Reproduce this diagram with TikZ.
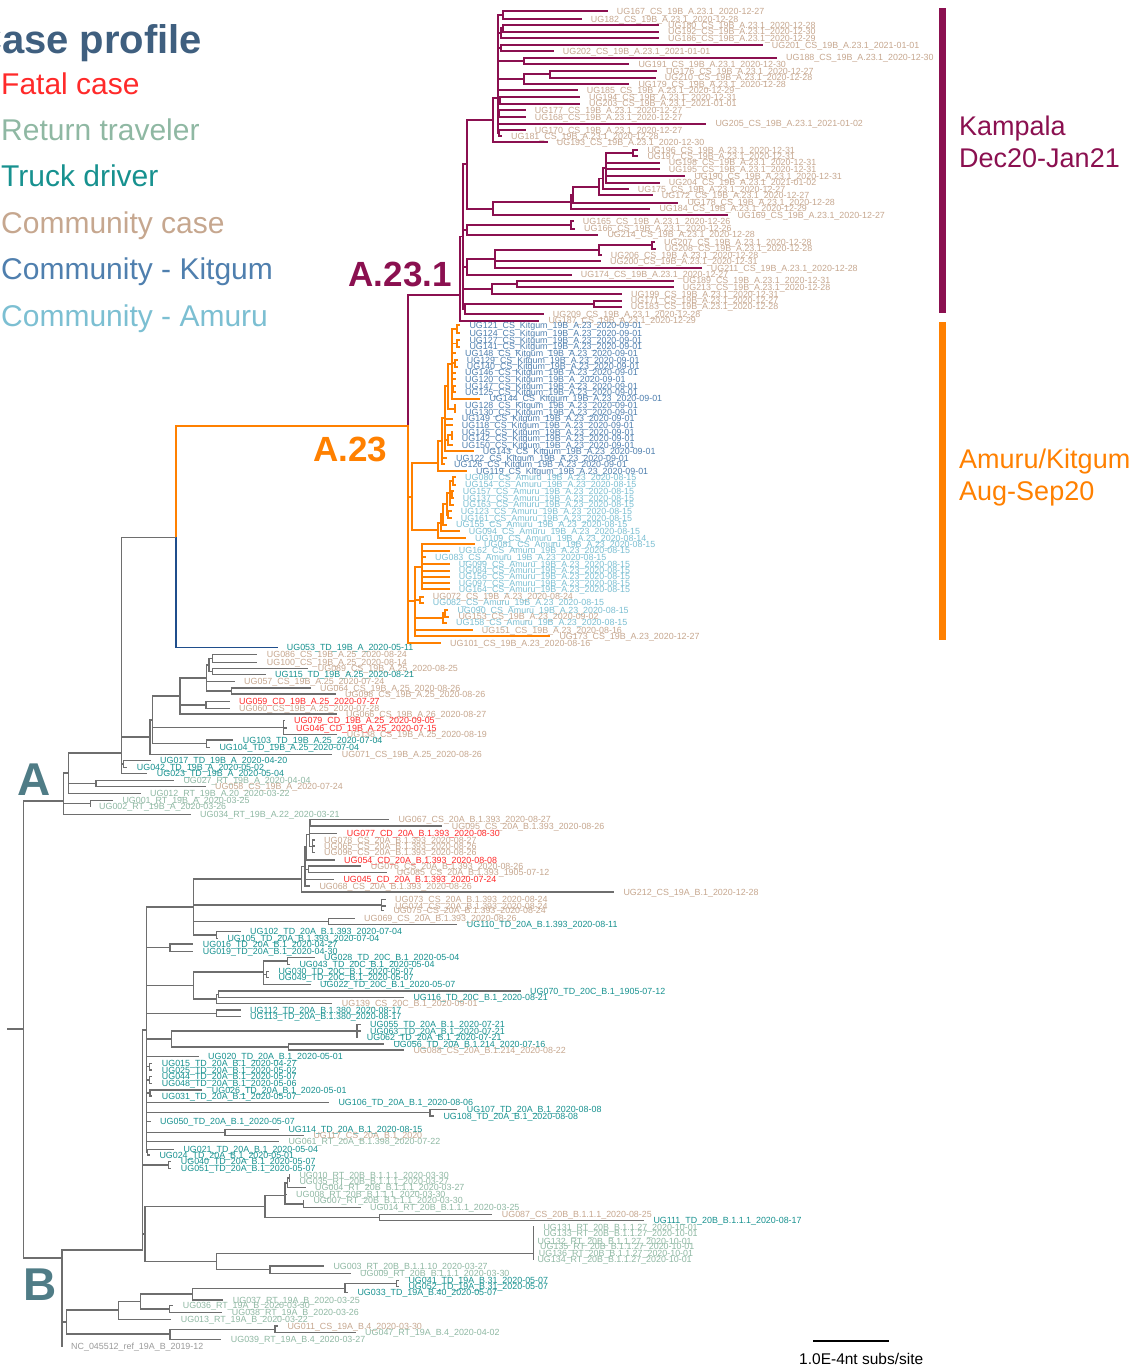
\documentclass[tikz,border=0pt]{standalone}
\usepackage{fontspec}
\setmainfont{Liberation Sans}
\definecolor{cfatal}{HTML}{FF2A2A}
\definecolor{crt}{HTML}{8FB8A3}
\definecolor{ctd}{HTML}{17918F}
\definecolor{ccs}{HTML}{C6A78F}
\definecolor{ckit}{HTML}{4F7FAE}
\definecolor{camu}{HTML}{7CBFD2}
\definecolor{ctitle}{HTML}{3F5F7F}
\definecolor{kamp}{HTML}{8B1050}
\definecolor{orng}{HTML}{FF8000}
\definecolor{bluebr}{HTML}{1F4E8C}
\definecolor{greyb}{HTML}{6E6E6E}
\definecolor{cref}{HTML}{9A9A9A}
\definecolor{cAB}{HTML}{4F7C86}
\tikzset{
  lbl/.style={inner sep=0pt,font=\fontsize{8.9}{9}\selectfont},
  leg/.style={anchor=base west,inner sep=0pt,font=\fontsize{30}{30}\selectfont},
  rtx/.style={anchor=base west,inner sep=0pt,font=\fontsize{27}{27}\selectfont},
  clade/.style={anchor=base east,inner sep=0pt,font=\bfseries\fontsize{35}{35}\selectfont},
  big/.style={anchor=base west,inner sep=0pt,font=\bfseries\fontsize{46}{46}\selectfont,text=cAB},
  brgrey/.style={draw=greyb,line width=1.4pt,line cap=rect},
  brkamp/.style={draw=kamp,line width=1.8pt,line cap=rect},
  brorng/.style={draw=orng,line width=1.7pt,line cap=rect},
  brblue/.style={draw=bluebr,line width=1.6pt,line cap=rect},
  br/.style={brgrey}
}
% leaf: name, parent x, text x, y, colour, label
\newcommand\lf[6]{%
  \draw[br] (#2,#4) -- ({max(#2,#3-10)},#4);
  \node[lbl,text=#5,anchor=base west] (#1) at (#3,{#4+3.2}) {#6};}
\newcommand\vl[3]{\draw[br] (#1,#2) -- (#1,#3);}
\newcommand\hl[3]{\draw[br] (#2,#1) -- (#3,#1);}
\begin{document}
\catcode`\_=12
\begin{tikzpicture}[x=1pt,y=-1pt]
\useasboundingbox (0,0) rectangle (1141,1369);
% ---------------- legend
\node[anchor=base west,inner sep=0pt,font=\bfseries\fontsize{40}{40}\selectfont,text=ctitle] (title) at (-27,53) {Case profile};
\node[leg,text=cfatal] (lg1) at (1,94) {Fatal case};
\node[leg,text=crt] (lg2) at (1,140.4) {Return traveler};
\node[leg,text=ctd] (lg3) at (1,186.8) {Truck driver};
\node[leg,text=ccs] (lg4) at (1,233.2) {Community case};
\node[leg,text=ckit] (lg5) at (1,279.6) {Community - Kitgum};
\node[leg,text=camu] (lg6) at (1,326) {Community - Amuru};
% ---------------- right bars
\fill[kamp] (939,8) rectangle (945.5,313);
\fill[orng] (939,322) rectangle (945.5,640);
\node[rtx,text=kamp] (k1) at (959,135) {Kampala};
\node[rtx,text=kamp] (k2) at (959,167) {Dec20-Jan21};
\node[rtx,text=orng] (o1) at (959,468) {Amuru/Kitgum};
\node[rtx,text=orng] (o2) at (959,500) {Aug-Sep20};
% ---------------- clade labels
\node[clade,text=kamp] (la231) at (452,286) {A.23.1};
\node[clade,text=orng] (la23) at (387.3,461.7) {A.23};
\node[big] (bigA) at (17,795) {A};
\node[big] (bigB) at (23,1300) {B};
% ---------------- Kampala A.23.1
\begin{scope}[br/.style={brkamp}]
\vl{502.7}{11}{19}
\lf{u167}{502.7}{616.7}{11}{ccs}{UG167_CS_19B_A.23.1_2020-12-27}
\lf{u182}{502.7}{590.7}{19}{ccs}{UG182_CS_19B_A.23.1_2020-12-28}
\hl{15}{497.7}{502.7}
\vl{502.7}{25}{31.7}
\lf{u180}{502.7}{668}{25}{ccs}{UG180_CS_19B_A.23.1_2020-12-28}
\lf{u192}{502.7}{668}{31.7}{ccs}{UG192_CS_19B_A.23.1_2020-12-30}
\hl{28.3}{500.7}{502.7}
\vl{500.7}{28.3}{38.3}
\lf{u186}{500.7}{668}{38.3}{ccs}{UG186_CS_19B_A.23.1_2020-12-29}
\hl{33.3}{497.7}{500.7}
\vl{500.7}{45}{51}
\lf{u201}{500.7}{771.7}{45}{ccs}{UG201_CS_19B_A.23.1_2021-01-01}
\lf{u202}{500.7}{562.7}{51}{ccs}{UG202_CS_19B_A.23.1_2021-01-01}
\hl{48}{497.7}{500.7}
\vl{524}{57.7}{64.3}
\lf{u188}{524}{786}{57.7}{ccs}{UG188_CS_19B_A.23.1_2020-12-30}
\lf{u191}{524}{638.3}{64.3}{ccs}{UG191_CS_19B_A.23.1_2020-12-30}
\hl{61}{497.7}{524}
\vl{550}{71}{77.7}
\lf{u176}{550}{666}{71}{ccs}{UG176_CS_19B_A.23.1_2020-12-27}
\lf{u210}{550}{664.7}{77.7}{ccs}{UG210_CS_19B_A.23.1_2020-12-28}
\hl{74.3}{524}{550}
\vl{524}{74.3}{84.3}
\lf{u179}{524}{638.3}{84.3}{ccs}{UG179_CS_19B_A.23.1_2020-12-28}
\hl{79.3}{497.7}{524}
\lf{u185}{497.7}{586.7}{90.3}{ccs}{UG185_CS_19B_A.23.1_2020-12-29}
\vl{500}{97}{103.7}
\lf{u194}{500}{589}{97}{ccs}{UG194_CS_19B_A.23.1_2020-12-31}
\lf{u203}{500}{589}{103.7}{ccs}{UG203_CS_19B_A.23.1_2021-01-01}
\hl{100.3}{497.7}{500}
\vl{499.3}{110.3}{117}
\lf{u177}{499.3}{534.7}{110.3}{ccs}{UG177_CS_19B_A.23.1_2020-12-27}
\lf{u168}{499.3}{534.7}{117}{ccs}{UG168_CS_19B_A.23.1_2020-12-27}
\hl{113.7}{497.7}{499.3}
\lf{u205}{497.7}{715.3}{123.7}{ccs}{UG205_CS_19B_A.23.1_2021-01-02}
\vl{499.3}{130.3}{136.3}
\lf{u170}{499.3}{534.7}{130.3}{ccs}{UG170_CS_19B_A.23.1_2020-12-27}
\lf{u181}{499.3}{511}{136.3}{ccs}{UG181_CS_19B_A.23.1_2020-12-28}
\hl{133.3}{497.7}{499.3}
\vl{497.7}{15}{133.3}
\hl{98}{493.3}{497.7}
\vl{493.3}{98}{142.3}
\lf{u193}{493.3}{556.7}{142.3}{ccs}{UG193_CS_19B_A.23.1_2020-12-30}
\hl{120}{466.7}{493.3}
\vl{633}{150}{156}
\lf{u196}{633}{647.3}{150}{ccs}{UG196_CS_19B_A.23.1_2020-12-31}
\lf{u197}{633}{647.3}{156}{ccs}{UG197_CS_19B_A.23.1_2020-12-31}
\hl{153}{605.7}{633}
\lf{u198}{605.7}{668.7}{162.7}{ccs}{UG198_CS_19B_A.23.1_2020-12-31}
\lf{u195}{605.7}{668.7}{169.3}{ccs}{UG195_CS_19B_A.23.1_2020-12-31}
\lf{u190}{605.7}{694.3}{176}{ccs}{UG190_CS_19B_A.23.1_2020-12-31}
\lf{u204}{605.7}{668.7}{182.7}{ccs}{UG204_CS_19B_A.23.1_2021-01-02}
\vl{605.7}{153}{182.7}
\hl{167.8}{603}{605.7}
\vl{603}{167.8}{189.3}
\lf{u175}{603}{637.7}{189.3}{ccs}{UG175_CS_19B_A.23.1_2020-12-27}
\hl{178.5}{599.3}{603}
\vl{599.3}{178.5}{195.3}
\lf{u172}{599.3}{661.7}{195.3}{ccs}{UG172_CS_19B_A.23.1_2020-12-27}
\hl{187}{573.3}{599.3}
\vl{573.3}{187}{202.7}
\lf{u178}{573.3}{687.3}{202.7}{ccs}{UG178_CS_19B_A.23.1_2020-12-28}
\hl{195}{571}{573.3}
\vl{571}{195}{208.7}
\lf{u184}{571}{659.3}{208.7}{ccs}{UG184_CS_19B_A.23.1_2020-12-29}
\hl{202}{493.3}{571}
\vl{493.3}{202}{215.3}
\lf{u169}{493.3}{737.3}{215.3}{ccs}{UG169_CS_19B_A.23.1_2020-12-27}
\hl{208.7}{466.7}{493.3}
\vl{466.7}{120}{208.7}
\hl{164}{463.3}{466.7}
\vl{570.7}{221.3}{228.7}
\lf{u165}{570.7}{582.7}{221.3}{ccs}{UG165_CS_19B_A.23.1_2020-12-26}
\lf{u166}{570.7}{584}{228.7}{ccs}{UG166_CS_19B_A.23.1_2020-12-26}
\hl{225}{467.3}{570.7}
\lf{u214}{467.3}{607.3}{234.7}{ccs}{UG214_CS_19B_A.23.1_2020-12-28}
\vl{467.3}{225}{234.7}
\hl{230}{463.3}{467.3}
\vl{652.3}{242}{248.7}
\lf{u207}{652.3}{664}{242}{ccs}{UG207_CS_19B_A.23.1_2020-12-28}
\lf{u208}{652.3}{664.7}{248.7}{ccs}{UG208_CS_19B_A.23.1_2020-12-28}
\hl{245}{599.3}{652.3}
\vl{599.3}{245}{255.3}
\lf{u206}{599.3}{610.7}{255.3}{ccs}{UG206_CS_19B_A.23.1_2020-12-28}
\hl{250}{494.7}{599.3}
\lf{u200}{494.7}{610}{261.3}{ccs}{UG200_CS_19B_A.23.1_2020-12-31}
\lf{u211}{494.7}{710.7}{268}{ccs}{UG211_CS_19B_A.23.1_2020-12-28}
\vl{494.7}{250}{268}
\hl{259}{467.3}{494.7}
\vl{467.3}{259}{274.7}
\lf{u174}{467.3}{580.7}{274.7}{ccs}{UG174_CS_19B_A.23.1_2020-12-27}
\hl{267}{463.3}{467.3}
\vl{517.3}{280.7}{287.3}
\lf{u189}{517.3}{682.7}{280.7}{ccs}{UG189_CS_19B_A.23.1_2020-12-31}
\lf{u213}{517.3}{682.7}{287.3}{ccs}{UG213_CS_19B_A.23.1_2020-12-28}
\hl{284}{491.7}{517.3}
\vl{491.7}{284}{294}
\lf{u199}{491.7}{631}{294}{ccs}{UG199_CS_19B_A.23.1_2020-12-31}
\hl{289}{463.3}{491.7}
\vl{594}{300.7}{306.7}
\lf{u171}{594}{630.7}{300.7}{ccs}{UG171_CS_19B_A.23.1_2020-12-27}
\lf{u183}{594}{630.7}{306.7}{ccs}{UG183_CS_19B_A.23.1_2020-12-28}
\hl{303.7}{465}{594}
\vl{465}{303.7}{314}
\lf{u209}{465}{552.7}{314}{ccs}{UG209_CS_19B_A.23.1_2020-12-28}
\hl{309}{463.3}{465}
\vl{463.3}{164}{309}
\hl{236.5}{460}{463.3}
\vl{460}{236.5}{320.7}
\lf{u187}{460}{548.3}{320.7}{ccs}{UG187_CS_19B_A.23.1_2020-12-29}
\hl{295}{408.3}{460}
\vl{408.3}{295}{426}
\end{scope}
% ---------------- A.23 orange
\begin{scope}[br/.style={brorng}]
\vl{456.7}{325.3}{333.3}
\lf{u121}{456.7}{469.3}{325.3}{ckit}{UG121_CS_Kitgum_19B_A.23_2020-09-01}
\lf{u124}{456.7}{469.3}{333.3}{ckit}{UG124_CS_Kitgum_19B_A.23_2020-09-01}
\hl{329.3}{451.7}{456.7}
\vl{456.7}{340.3}{346.7}
\lf{u127}{456.7}{469.3}{340.3}{ckit}{UG127_CS_Kitgum_19B_A.23_2020-09-01}
\lf{u141}{456.7}{469.3}{346.7}{ckit}{UG141_CS_Kitgum_19B_A.23_2020-09-01}
\hl{343.5}{451.7}{456.7}
\lf{u148}{451.7}{465}{353.3}{ckit}{UG148_CS_Kitgum_19B_A.23_2020-09-01}
\vl{455}{360}{366.7}
\lf{u129}{455}{466.7}{360}{ckit}{UG129_CS_Kitgum_19B_A.23_2020-09-01}
\lf{u140}{455}{466.7}{366.7}{ckit}{UG140_CS_Kitgum_19B_A.23_2020-09-01}
\hl{363.3}{451.7}{455}
\lf{u146}{451.7}{465}{372.7}{ckit}{UG146_CS_Kitgum_19B_A.23_2020-09-01}
\lf{u120}{451.7}{465}{379.3}{ckit}{UG120_CS_Kitgum_19B_A_2020-09-01}
\vl{453.3}{386}{392}
\lf{u147}{453.3}{465}{386}{ckit}{UG147_CS_Kitgum_19B_A.23_2020-09-01}
\lf{u125}{453.3}{465}{392}{ckit}{UG125_CS_Kitgum_19B_A.23_2020-09-01}
\hl{389}{451.7}{453.3}
\lf{u144}{451.7}{489.3}{398.7}{ckit}{UG144_CS_Kitgum_19B_A.23_2020-09-01}
\vl{451.7}{329.3}{398.7}
\hl{364}{448.3}{451.7}
\vl{455}{405.3}{412}
\lf{u128}{455}{465}{405.3}{ckit}{UG128_CS_Kitgum_19B_A.23_2020-09-01}
\lf{u130}{455}{465}{412}{ckit}{UG130_CS_Kitgum_19B_A.23_2020-09-01}
\hl{408.7}{448.3}{455}
\vl{448.3}{364}{408.7}
\hl{386}{445}{448.3}
\lf{u149}{445}{461.7}{418.7}{ckit}{UG149_CS_Kitgum_19B_A.23_2020-09-01}
\lf{u118}{445}{461.7}{425.3}{ckit}{UG118_CS_Kitgum_19B_A.23_2020-09-01}
\vl{451.7}{432}{438.7}
\lf{u145}{451.7}{461.7}{432}{ckit}{UG145_CS_Kitgum_19B_A.23_2020-09-01}
\lf{u142}{451.7}{461.7}{438.7}{ckit}{UG142_CS_Kitgum_19B_A.23_2020-09-01}
\hl{435.3}{448.3}{451.7}
\vl{448.3}{435.3}{445.3}
\lf{u150}{448.3}{461.7}{445.3}{ckit}{UG150_CS_Kitgum_19B_A.23_2020-09-01}
\hl{440.3}{445}{448.3}
\lf{u143}{445}{482.7}{451.3}{ckit}{UG143_CS_Kitgum_19B_A.23_2020-09-01}
\vl{445}{386}{451.3}
\hl{418}{441.7}{445}
\lf{u122}{441.7}{456}{458}{ckit}{UG122_CS_Kitgum_19B_A.23_2020-09-01}
\lf{u126}{441.7}{454}{464}{ckit}{UG126_CS_Kitgum_19B_A.23_2020-09-01}
\vl{441.7}{418}{464}
\hl{441}{438.3}{441.7}
\lf{u119}{438.3}{476}{471.3}{ckit}{UG119_CS_Kitgum_19B_A.23_2020-09-01}
\vl{438.3}{441}{471.3}
\hl{463.3}{412.3}{438.3}
% Amuru
\vl{453.3}{477.3}{484.7}
\lf{u080}{453.3}{465}{477.3}{camu}{UG080_CS_Amuru_19B_A.23_2020-08-15}
\lf{u154}{453.3}{465}{484.7}{camu}{UG154_CS_Amuru_19B_A.23_2020-08-15}
\hl{481}{450}{453.3}
\vl{451.7}{491.3}{498}
\lf{u157}{451.7}{462.7}{491.3}{camu}{UG157_CS_Amuru_19B_A.23_2020-08-15}
\lf{u137}{451.7}{462.7}{498}{camu}{UG137_CS_Amuru_19B_A.23_2020-08-15}
\hl{494.7}{450}{451.7}
\lf{u163}{450}{462.7}{504.7}{camu}{UG163_CS_Amuru_19B_A.23_2020-08-15}
\vl{450}{481}{504.7}
\hl{493}{446.7}{450}
\vl{448.3}{511.3}{518}
\lf{u123}{448.3}{460.7}{511.3}{camu}{UG123_CS_Amuru_19B_A.23_2020-08-15}
\lf{u161}{448.3}{460.7}{518}{camu}{UG161_CS_Amuru_19B_A.23_2020-08-15}
\hl{514.7}{446.7}{448.3}
\vl{446.7}{493}{514.7}
\hl{504}{443.3}{446.7}
\lf{u155}{443.3}{456}{524.7}{camu}{UG155_CS_Amuru_19B_A.23_2020-08-15}
\vl{443.3}{504}{524.7}
\hl{514}{440.7}{443.3}
\lf{u094}{440.7}{468.7}{531.3}{camu}{UG094_CS_Amuru_19B_A.23_2020-08-15}
\vl{440.7}{514}{531.3}
\hl{522.7}{438.3}{440.7}
\lf{u109}{438.3}{475}{538}{camu}{UG109_CS_Amuru_19B_A.23_2020-08-14}
\vl{438.3}{522.7}{538}
\hl{530}{412.3}{438.3}
\vl{412.3}{463.3}{530}
\hl{496.7}{408.3}{412.3}
% lower A.23
\lf{u081}{421.7}{484}{544}{camu}{UG081_CS_Amuru_19B_A.23_2020-08-15}
\lf{u162}{421.7}{458.7}{550.7}{camu}{UG162_CS_Amuru_19B_A.23_2020-08-15}
\lf{u083}{421.7}{435}{557.3}{camu}{UG083_CS_Amuru_19B_A.23_2020-08-15}
\lf{u099}{421.7}{458.7}{564}{camu}{UG099_CS_Amuru_19B_A.23_2020-08-15}
\lf{u084}{421.7}{458.7}{570.7}{camu}{UG084_CS_Amuru_19B_A.23_2020-08-15}
\lf{u156}{421.7}{458.7}{576.7}{camu}{UG156_CS_Amuru_19B_A.23_2020-08-15}
\lf{u097}{421.7}{458.7}{583.3}{camu}{UG097_CS_Amuru_19B_A.23_2020-08-15}
\lf{u164}{421.7}{458.7}{589.3}{camu}{UG164_CS_Amuru_19B_A.23_2020-08-15}
\vl{421.7}{544}{589.3}
\hl{566.7}{415}{421.7}
\vl{420}{596.7}{602.7}
\lf{u072}{420}{432.7}{596.7}{ccs}{UG072_CS_19B_A.23_2020-08-24}
\lf{u082}{420}{432.7}{602.7}{camu}{UG082_CS_Amuru_19B_A.23_2020-08-15}
\hl{599.7}{415}{420}
\vl{445}{610}{616.7}
\lf{u090}{445}{457.3}{610}{camu}{UG090_CS_Amuru_19B_A.23_2020-08-15}
\lf{u153}{445}{458.3}{616.7}{ccs}{UG153_CS_19B_A.23_2020-09-02}
\hl{613.3}{443.3}{445}
\vl{443.3}{613.3}{622.7}
\lf{u158}{443.3}{456}{622.7}{camu}{UG158_CS_Amuru_19B_A.23_2020-08-15}
\hl{618}{415}{443.3}
\lf{u151}{415}{481.7}{630}{ccs}{UG151_CS_19B_A.23_2020-08-16}
\lf{u173}{415}{559.3}{636}{ccs}{UG173_CS_19B_A.23_2020-12-27}
\vl{415}{566.7}{636}
\hl{601}{408.3}{415}
\lf{u101}{408.3}{450}{643.3}{ccs}{UG101_CS_19B_A.23_2020-08-16}
\vl{408.3}{426}{643.3}
\hl{426}{175.7}{408.3}
\vl{175.7}{426}{537.3}
\end{scope}
\begin{scope}[br/.style={brblue}]
\vl{175.7}{537.3}{647.5}
\lf{u053}{175.7}{286.7}{647.5}{ctd}{UG053_TD_19B_A_2020-05-11}
\end{scope}
% ---------------- grey: clade A
\hl{537.3}{121.5}{175.7}
\vl{212.7}{654.7}{662.7}
\lf{u086}{212.7}{266.7}{654.7}{ccs}{UG086_CS_19B_A.25_2020-08-24}
\lf{u100}{212.7}{266.7}{662.7}{ccs}{UG100_CS_19B_A.25_2020-08-14}
\hl{658.7}{209}{212.7}
\vl{212.7}{668.7}{674.7}
\lf{u089}{212.7}{317.7}{668.7}{ccs}{UG089_CS_19B_A.25_2020-08-25}
\lf{u115}{212.7}{275}{674.7}{ctd}{UG115_TD_19B_A.25_2020-08-21}
\hl{671.7}{209}{212.7}
\vl{209}{658.7}{671.7}
\hl{665}{206.7}{209}
\lf{u057}{206.7}{244}{681.3}{ccs}{UG057_CS_19B_A.25_2020-07-24}
\vl{231.7}{688}{694}
\lf{u064}{231.7}{320}{688}{ccs}{UG064_CS_19B_A.25_2020-08-26}
\lf{u098}{231.7}{345}{694}{ccs}{UG098_CS_19B_A.25_2020-08-26}
\hl{691}{206.7}{231.7}
\vl{206.7}{665}{691}
\hl{678}{180}{206.7}
\vl{206}{701.3}{708.7}
\lf{u059}{206}{239}{701.3}{cfatal}{UG059_CD_19B_A.25_2020-07-27}
\lf{u060}{206}{239}{708.7}{ccs}{UG060_CS_19B_A.25_2020-07-28}
\hl{705}{180}{206}
\lf{u066}{180}{346}{714}{ccs}{UG066_CS_19B_A.26_2020-08-27}
\vl{180}{678}{714}
\hl{696}{152.7}{180}
\lf{u079}{283.3}{294}{720.7}{cfatal}{UG079_CD_19B_A.25_2020-09-05}
\lf{u046}{283.3}{296}{728}{cfatal}{UG046_CD_19B_A.25_2020-07-15}
\lf{u138}{283.3}{346.7}{734.7}{ccs}{UG138_CS_19B_A.25_2020-08-19}
\vl{283.3}{720.7}{734.7}
\hl{727.7}{152.7}{283.3}
\vl{206.7}{740}{747.3}
\lf{u103}{206.7}{242.7}{740}{ctd}{UG103_TD_19B_A.25_2020-07-04}
\lf{u104}{206.7}{219.3}{747.3}{ctd}{UG104_TD_19B_A.25_2020-07-04}
\hl{743.7}{152.7}{206.7}
\vl{152.7}{696}{743.7}
\hl{720}{150}{152.7}
\lf{u071}{150}{341.7}{754.7}{ccs}{UG071_CS_19B_A.25_2020-08-26}
\vl{150}{720}{754.7}
\hl{737}{121.5}{150}
\vl{123.3}{760.7}{767.3}
\lf{u017}{123.3}{160}{760.7}{ctd}{UG017_TD_19B_A_2020-04-20}
\lf{u042}{123.3}{136.7}{767.3}{ctd}{UG042_TD_19B_A_2020-05-02}
\hl{764}{121.5}{123.3}
\lf{u023}{121.5}{156.7}{773.3}{ctd}{UG023_TD_19B_A_2020-05-04}
\vl{121.5}{537.3}{773.3}
\hl{753}{68.3}{121.5}
\vl{96}{780.7}{786.7}
\lf{u027}{96}{183.3}{780.7}{crt}{UG027_RT_19B_A_2020-04-04}
\lf{u058}{96}{215}{786.7}{ccs}{UG058_CS_19B_A_2020-07-24}
\hl{783.7}{68.3}{96}
\lf{u012}{68.3}{150}{793.3}{crt}{UG012_RT_19B_A.20_2020-03-22}
\vl{68.3}{753}{793.3}
\hl{773}{63.3}{68.3}
\vl{90.7}{800.7}{806.7}
\lf{u001}{90.7}{122.3}{800.7}{crt}{UG001_RT_19B_A_2020-03-25}
\lf{u002}{90.7}{99}{806.7}{crt}{UG002_RT_19B_A_2020-03-26}
\hl{803.7}{63.3}{90.7}
\lf{u034}{63.3}{200}{814.7}{crt}{UG034_RT_19B_A.22_2020-03-21}
\vl{63.3}{773}{814.7}
\hl{801}{23.3}{63.3}
\vl{23.3}{801}{1258}
\coordinate (rootL) at (8,1029);
\coordinate (rootR) at (23.3,1029);
\draw[br] (rootL) -- (rootR);
% ---------------- B.1.393
\vl{310}{819.3}{826}
\lf{u067}{310}{398.3}{819.3}{ccs}{UG067_CS_20A_B.1.393_2020-08-27}
\lf{u095}{310}{451.7}{826}{ccs}{UG095_CS_20A_B.1.393_2020-08-26}
\hl{822.7}{309.3}{310}
\lf{u077}{309.3}{346.7}{833.3}{cfatal}{UG077_CD_20A_B.1.393_2020-08-30}
\lf{u078}{312.5}{324}{840}{ccs}{UG078_CS_20A_B.1.393_2020-08-27}
\lf{u065}{312.5}{324}{846}{ccs}{UG065_CS_20A_B.1.393_2020-08-26}
\lf{u096}{312.5}{324}{852.7}{ccs}{UG096_CS_20A_B.1.393_2020-08-26}
\vl{312.5}{840}{852.7}
\hl{846.3}{309.3}{312.5}
\vl{309.3}{822.7}{846.3}
\hl{834.5}{306.7}{309.3}
\lf{u054}{306.7}{344}{860}{cfatal}{UG054_CD_20A_B.1.393_2020-08-08}
\vl{306.7}{834.5}{860}
\hl{847}{305}{306.7}
\vl{308.3}{866}{872.7}
\lf{u076}{308.3}{370.7}{866}{ccs}{UG076_CS_20A_B.1.393_2020-08-26}
\lf{u085}{308.3}{396.7}{872.7}{ccs}{UG085_CS_20A_B.1.393_1905-07-12}
\hl{869.3}{305}{308.3}
\lf{u045}{305}{343.3}{879.3}{cfatal}{UG045_CD_20A_B.1.393_2020-07-24}
\lf{u068}{305}{319.3}{886}{ccs}{UG068_CS_20A_B.1.393_2020-08-26}
\vl{305}{847}{886}
\hl{866.5}{301.7}{305}
\lf{u212}{301.7}{623.3}{892}{ccs}{UG212_CS_19A_B.1_2020-12-28}
\vl{301.7}{866.5}{892}
\hl{879}{193.3}{301.7}
\lf{u073}{381.7}{395}{899.3}{ccs}{UG073_CS_20A_B.1.393_2020-08-24}
\lf{u074}{381.7}{395}{906}{ccs}{UG074_CS_20A_B.1.393_2020-08-24}
\lf{u075}{381.7}{393.3}{910.7}{ccs}{UG075_CS_20A_B.1.393_2020-08-24}
\vl{381.7}{899.3}{910.7}
\hl{905}{193.3}{381.7}
\vl{328.3}{918.7}{924.7}
\lf{u069}{328.3}{364}{918.7}{ccs}{UG069_CS_20A_B.1.393_2020-08-26}
\lf{u110}{328.3}{466.7}{924.7}{ctd}{UG110_TD_20A_B.1.393_2020-08-11}
\hl{921.7}{193.3}{328.3}
\vl{216.7}{931.7}{938.3}
\lf{u102}{216.7}{250}{931.7}{ctd}{UG102_TD_20A_B.1.393_2020-07-04}
\lf{u105}{216.7}{227.3}{938.3}{ctd}{UG105_TD_20A_B.1.393_2020-07-04}
\hl{935}{193.3}{216.7}
\vl{193.3}{879}{935}
\hl{907}{146.7}{193.3}
% ---------------- B.1 backbone
\vl{170}{944}{951.7}
\lf{u016}{170}{202.7}{944}{ctd}{UG016_TD_20A_B.1_2020-04-27}
\lf{u019}{170}{202.7}{951.7}{ctd}{UG019_TD_20A_B.1_2020-04-30}
\hl{947.7}{146.7}{170}
\vl{287.3}{957.7}{964.3}
\lf{u028}{287.3}{324}{957.7}{ctd}{UG028_TD_20C_B.1_2020-05-04}
\lf{u043}{287.3}{299.3}{964.3}{ctd}{UG043_TD_20C_B.1_2020-05-04}
\hl{961}{263.3}{287.3}
\vl{266.7}{971.7}{977.7}
\lf{u030}{266.7}{278.3}{971.7}{ctd}{UG030_TD_20C_B.1_2020-05-07}
\lf{u049}{266.7}{278.3}{977.7}{ctd}{UG049_TD_20C_B.1_2020-05-07}
\hl{974.7}{263.3}{266.7}
\lf{u022}{263.3}{320}{984.3}{ctd}{UG022_TD_20C_B.1_2020-05-07}
\vl{263.3}{961}{984.3}
\hl{972}{193.3}{263.3}
\vl{218.3}{991}{997.7}
\lf{u070}{218.3}{530}{991}{ctd}{UG070_TD_20C_B.1_1905-07-12}
\lf{u116}{218.3}{413.3}{997.7}{ctd}{UG116_TD_20C_B.1_2020-08-21}
\hl{994.3}{216.7}{218.3}
\lf{u139}{216.7}{341.7}{1003.3}{ccs}{UG139_CS_20C_B.1_2020-09-01}
\vl{216.7}{994.3}{1003.3}
\hl{999}{193.3}{216.7}
\vl{193.3}{972}{999}
\hl{985.5}{146.7}{193.3}
\vl{216.7}{1010}{1016.7}
\lf{u112}{216.7}{250}{1010}{ctd}{UG112_TD_20A_B.1.380_2020-08-17}
\lf{u113}{216.7}{250}{1016.7}{ctd}{UG113_TD_20A_B.1.380_2020-08-17}
\hl{1013.3}{146.7}{216.7}
\lf{u055}{357}{370}{1024.3}{ctd}{UG055_TD_20A_B.1_2020-07-21}
\lf{u063}{357}{370}{1031}{ctd}{UG063_TD_20A_B.1_2020-07-21}
\lf{u062}{357}{366.7}{1037.3}{ctd}{UG062_TD_20A_B.1_2020-07-21}
\vl{357}{1024.3}{1037.3}
\hl{1031}{171.7}{357}
\vl{288.3}{1044}{1050}
\lf{u056}{288.3}{393.3}{1044}{ctd}{UG056_TD_20A_B.1.214_2020-07-16}
\lf{u088}{288.3}{413.3}{1050}{ccs}{UG088_CS_20A_B.1.214_2020-08-22}
\hl{1047}{171.7}{288.3}
\vl{171.7}{1031}{1047}
\hl{1039}{146.7}{171.7}
\lf{u020}{146.7}{208}{1056.7}{ctd}{UG020_TD_20A_B.1_2020-05-01}
\vl{149.3}{1063.3}{1070}
\lf{u015}{149.3}{161.7}{1063.3}{ctd}{UG015_TD_20A_B.1_2020-04-27}
\lf{u025}{149.3}{161.7}{1070}{ctd}{UG025_TD_20A_B.1_2020-05-02}
\hl{1066.7}{146.7}{149.3}
\vl{149.3}{1076.7}{1083.3}
\lf{u044}{149.3}{161.7}{1076.7}{ctd}{UG044_TD_20A_B.1_2020-05-07}
\lf{u048}{149.3}{161.7}{1083.3}{ctd}{UG048_TD_20A_B.1_2020-05-06}
\hl{1080}{146.7}{149.3}
\vl{150}{1090}{1096}
\lf{u026}{150}{211.7}{1090}{ctd}{UG026_TD_20A_B.1_2020-05-01}
\lf{u031}{150}{161.7}{1096}{ctd}{UG031_TD_20A_B.1_2020-05-07}
\hl{1093}{146.7}{150}
\lf{u106}{146.7}{338.3}{1102.7}{ctd}{UG106_TD_20A_B.1_2020-08-06}
\vl{430}{1109.3}{1116}
\lf{u107}{430}{466.7}{1109.3}{ctd}{UG107_TD_20A_B.1_2020-08-08}
\lf{u108}{430}{443.3}{1116}{ctd}{UG108_TD_20A_B.1_2020-08-08}
\hl{1112.7}{146.7}{430}
\lf{u050}{146.7}{160}{1121.7}{ctd}{UG050_TD_20A_B.1_2020-05-07}
\vl{225}{1129.3}{1135.3}
\lf{u114}{225}{288.3}{1129.3}{ctd}{UG114_TD_20A_B.1_2020-08-15}
\lf{u117}{225}{313.3}{1135.3}{ccs}{UG117_CS_20A_B.1_2020}
\hl{1132.3}{146.7}{225}
\lf{u061}{146.7}{288.3}{1141.7}{crt}{UG061_RT_20A_B.1.398_2020-07-22}
\vl{147.5}{1149.3}{1155}
\lf{u021}{147.5}{183.3}{1149.3}{ctd}{UG021_TD_20A_B.1_2020-05-04}
\lf{u024}{147.5}{159.3}{1155}{ctd}{UG024_TD_20A_B.1_2020-05-01}
\vl{146.7}{907}{1152}
\hl{1030}{142.7}{146.7}
\vl{168.3}{1161.7}{1168.3}
\lf{u040}{168.3}{180.7}{1161.7}{ctd}{UG040_TD_20A_B.1_2020-05-07}
\lf{u051}{168.3}{180.7}{1168.3}{ctd}{UG051_TD_20A_B.1_2020-05-07}
\hl{1165}{142.7}{168.3}
% ---------------- B.1.1
\vl{289.3}{1175}{1181}
\lf{u010}{289.3}{299.3}{1175}{crt}{UG010_RT_20B_B.1.1.1_2020-03-30}
\lf{u035}{289.3}{299.3}{1181}{crt}{UG035_RT_20B_B.1.1.1_2020-03-27}
\hl{1178}{287.3}{289.3}
\lf{u004}{287.3}{315}{1187.7}{crt}{UG004_RT_20B_B.1.1.1_2020-03-27}
\vl{287.3}{1178}{1187.7}
\hl{1183}{285}{287.3}
\lf{u008}{285}{296}{1194.3}{crt}{UG008_RT_20B_B.1.1.1_2020-03-30}
\vl{303.3}{1200.3}{1207.7}
\lf{u007}{303.3}{313.3}{1200.3}{crt}{UG007_RT_20B_B.1.1.1_2020-03-30}
\lf{u014}{303.3}{370}{1207.7}{crt}{UG014_RT_20B_B.1.1.1_2020-03-25}
\hl{1204}{285}{303.3}
\vl{285}{1183}{1204}
\hl{1195.7}{265}{285}
\vl{379.3}{1214.3}{1220.3}
\lf{u087}{379.3}{501.7}{1214.3}{ccs}{UG087_CS_20B_B.1.1.1_2020-08-25}
\lf{u111}{379.3}{653.3}{1220.3}{ctd}{UG111_TD_20B_B.1.1.1_2020-08-17}
\hl{1217.3}{265}{379.3}
\vl{265}{1195.7}{1217.3}
\hl{1206.7}{145}{265}
\lf{u131}{533.3}{543.3}{1227}{crt}{UG131_RT_20B_B.1.1.27_2020-10-01}
\lf{u133}{533.3}{543.3}{1233.7}{crt}{UG133_RT_20B_B.1.1.27_2020-10-01}
\lf{u132}{533.3}{537.3}{1241}{crt}{UG132_RT_20B_B.1.1.27_2020-10-01}
\lf{u135}{533.3}{540}{1246.3}{crt}{UG135_RT_20B_B.1.1.27_2020-10-01}
\lf{u136}{533.3}{538.7}{1253.7}{crt}{UG136_RT_20B_B.1.1.27_2020-10-01}
\lf{u134}{533.3}{537.3}{1259.7}{crt}{UG134_RT_20B_B.1.1.27_2020-10-01}
\vl{533.3}{1227}{1259.7}
\hl{1253.3}{216.7}{533.3}
\vl{270}{1266}{1273.3}
\lf{u003}{270}{333.3}{1266}{crt}{UG003_RT_20B_B.1.1.10_2020-03-27}
\lf{u009}{270}{360}{1273.3}{crt}{UG009_RT_20B_B.1.1.1_2020-03-30}
\hl{1269.7}{216.7}{270}
\vl{216.7}{1253.3}{1269.7}
\hl{1261.5}{145}{216.7}
\vl{145}{1206.7}{1261.5}
\hl{1234}{142.7}{145}
\vl{142.7}{1030}{1250}
\hl{1250}{62}{142.7}
% ---------------- clade B (19A)
\vl{396.7}{1280.7}{1286.7}
\lf{u041}{396.7}{408.3}{1280.7}{ctd}{UG041_TD_19A_B.31_2020-05-07}
\lf{u052}{396.7}{408.3}{1286.7}{ctd}{UG052_TD_19A_B.31_2020-05-07}
\hl{1283.7}{345}{396.7}
\lf{u033}{345}{357.3}{1292.7}{ctd}{UG033_TD_19A_B.40_2020-05-07}
\vl{345}{1283.7}{1292.7}
\hl{1288.3}{192.7}{345}
\lf{u037}{192.7}{232.7}{1300}{crt}{UG037_RT_19A_B_2020-03-25}
\vl{192.7}{1288.3}{1300}
\hl{1294}{140.7}{192.7}
\vl{169.3}{1305.3}{1312.7}
\lf{u036}{169.3}{182.7}{1305.3}{crt}{UG036_RT_19A_B_2020-03-30}
\lf{u038}{169.3}{231.7}{1312.7}{crt}{UG038_RT_19A_B_2020-03-26}
\hl{1309}{140.7}{169.3}
\vl{140.7}{1294}{1309}
\hl{1301.5}{118.3}{140.7}
\lf{u013}{118.3}{180.7}{1319.3}{crt}{UG013_RT_19A_B_2020-03-22}
\vl{118.3}{1301.5}{1319.3}
\hl{1310}{66.7}{118.3}
\vl{275}{1326}{1332.7}
\lf{u011}{275}{287.3}{1326}{ccs}{UG011_CS_19A_B.4_2020-03-30}
\lf{u047}{275}{365}{1332.7}{crt}{UG047_RT_19A_B.4_2020-04-02}
\hl{1329.3}{170}{275}
\lf{u039}{170}{230.7}{1339.3}{crt}{UG039_RT_19A_B.4_2020-03-27}
\vl{170}{1329.3}{1339.3}
\hl{1334}{66.7}{170}
\vl{66.7}{1310}{1334}
\hl{1322}{62}{66.7}
\lf{nc}{62}{71}{1346}{cref}{NC_045512_ref_19A_B_2019-12}
\vl{62}{1250}{1346}
\hl{1258}{23.3}{62}
% ---------------- scale bar
\coordinate (sb1) at (813,1341);
\coordinate (sb2) at (889,1341);
\draw[line width=1.5pt] (sb1) -- (sb2);
\node[anchor=base west,inner sep=0pt,font=\fontsize{15.5}{16}\selectfont] (sbl) at (799,1364) {1.0E-4nt subs/site};
\end{tikzpicture}
\end{document}
